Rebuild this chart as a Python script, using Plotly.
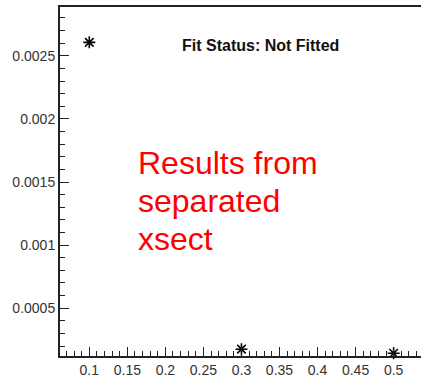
import plotly.graph_objects as go

x_vals = [0.1, 0.3, 0.5]
y_vals = [0.002607, 0.000175, 0.000143]

x_tickvals = [0.1, 0.15, 0.2, 0.25, 0.3, 0.35, 0.4, 0.45, 0.5]
x_ticktext = ["0.1", "0.15", "0.2", "0.25", "0.3", "0.35", "0.4", "0.45", "0.5"]
y_tickvals = [0.0005, 0.001, 0.0015, 0.002, 0.0025]
y_ticktext = ["0.0005", "0.001", "0.0015", "0.002", "0.0025"]
red_lines = ["Results from", "separated", "xsect"]

fig = go.Figure()
fig.add_trace(go.Scatter(
    x=x_vals, y=y_vals, mode="markers",
    marker=dict(symbol="asterisk-open", size=10, color="black",
                line=dict(color="black", width=1.6)),
    cliponaxis=False, showlegend=False,
))

font = "Liberation Sans, Arial, Helvetica, sans-serif"
H_PLOT = 355.0
W_PLOT = 361.0

annotations = [
    dict(text="<b>Fit Status: Not Fitted</b>", xref="paper", yref="paper",
         x=(260 - 60) / W_PLOT, y=(362 - 46) / H_PLOT, xanchor="center", yanchor="middle",
         showarrow=False, font=dict(family=font, size=16, color="#111111")),
]
for i, line in enumerate(red_lines):
    yc = 166 + i * 38.5
    annotations.append(dict(
        text=line, xref="paper", yref="paper",
        x=(136 - 60) / W_PLOT, y=(362 - yc) / H_PLOT, xanchor="left", yanchor="middle",
        align="left", showarrow=False,
        font=dict(family=font, size=32, color="#ff0000")))

fig.update_layout(
    width=421, height=378,
    margin=dict(l=60, r=0, t=7, b=16),
    paper_bgcolor="white", plot_bgcolor="white",
    font=dict(family=font, color="#333333", size=14),
    xaxis=dict(
        range=[0.0615, 0.536], showgrid=False, zeroline=False,
        showline=True, linecolor="#222222", linewidth=2, mirror=True,
        ticks="inside", ticklen=9, tickwidth=1.3, tickcolor="#222222",
        tickvals=x_tickvals, ticktext=x_ticktext,
        tickfont=dict(size=14, color="#333333"),
        minor=dict(dtick=0.01, tick0=0.0, ticks="inside", ticklen=5,
                   tickwidth=1.2, tickcolor="#222222", showgrid=False),
    ),
    yaxis=dict(
        range=[0.000121, 0.002887], showgrid=False, zeroline=False,
        showline=True, linecolor="#222222", linewidth=2,
        ticks="inside", ticklen=9, tickwidth=1.3, tickcolor="#222222",
        tickvals=y_tickvals, ticktext=y_ticktext,
        tickfont=dict(size=14, color="#333333"),
        minor=dict(dtick=0.0001, tick0=0.0, ticks="inside", ticklen=5,
                   tickwidth=1.2, tickcolor="#222222", showgrid=False),
    ),
    annotations=annotations,
)

fig.write_html("out.html")
